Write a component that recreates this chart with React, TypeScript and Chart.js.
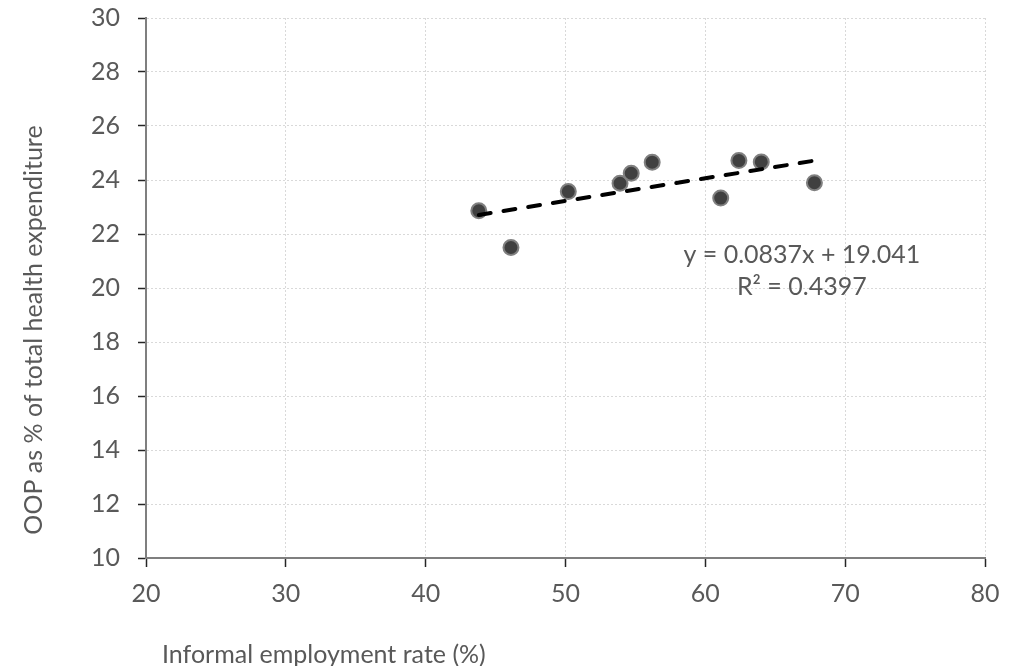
import React, { useEffect, useRef } from "react";
import { Chart, registerables } from "chart.js";

Chart.register(...registerables);

// Data
const informalRate = [43.8, 46.1, 50.2, 53.9, 54.7, 56.2, 61.1, 62.4, 64.0, 67.8];
const oopShare = [22.86, 21.5, 23.57, 23.88, 24.25, 24.66, 23.33, 24.72, 24.67, 23.9];

const TREND_SLOPE = 0.0837;
const TREND_INTERCEPT = 19.041;
const TREND_R2 = 0.4397;

const X_MIN = 20;
const X_MAX = 80;
const X_STEP = 10;
const Y_MIN = 10;
const Y_MAX = 30;
const Y_STEP = 2;

const X_TITLE = "Informal employment rate (%)";
const Y_TITLE = "OOP as % of total health expenditure";
const EQ_TEXT = `y = ${TREND_SLOPE}x + ${TREND_INTERCEPT}`;
const R2_TEXT = `R² = ${TREND_R2}`;

// label anchor (data coordinates) for the trendline equation
const EQ_AT_X = 66.9;
const EQ_AT_Y = 21.22;

const FONT = "Lato, 'Open Sans', sans-serif";
const FONT_SIZE = 25;
const TEXT_COLOR = "#595959";

export default function App() {
  const ref = useRef<HTMLCanvasElement | null>(null);

  useEffect(() => {
    if (!ref.current) return;
    const points = informalRate.map((x, i) => ({ x, y: oopShare[i] }));
    const xLo = Math.min(...informalRate);
    const xHi = Math.max(...informalRate);
    const trend = [
      { x: xLo, y: TREND_SLOPE * xLo + TREND_INTERCEPT },
      { x: xHi, y: TREND_SLOPE * xHi + TREND_INTERCEPT },
    ];

    const textPlugin = {
      id: "texts",
      afterDraw(chart: any) {
        const ctx = chart.ctx;
        const xs = chart.scales.x;
        const ys = chart.scales.y;
        ctx.save();
        ctx.fillStyle = TEXT_COLOR;
        ctx.font = `${FONT_SIZE}px ${FONT}`;
        // x title
        ctx.textAlign = "left";
        ctx.textBaseline = "middle";
        ctx.fillText(X_TITLE, 162, 655);
        // y title
        ctx.save();
        ctx.translate(34, 330);
        ctx.rotate(-Math.PI / 2);
        ctx.textAlign = "center";
        ctx.fillText(Y_TITLE, 0, 0);
        ctx.restore();
        // equation
        const ex = xs.getPixelForValue(EQ_AT_X);
        const ey = ys.getPixelForValue(EQ_AT_Y);
        ctx.textAlign = "center";
        ctx.fillText(EQ_TEXT, ex, ey);
        ctx.fillText(R2_TEXT, ex, ey + 32);
        ctx.restore();
      },
    };

    const chart = new Chart(ref.current, {
      type: "scatter",
      data: {
        datasets: [
          {
            type: "line",
            label: "Trend",
            data: trend,
            borderColor: "#000000",
            borderWidth: 4,
            borderDash: [12, 13],
            borderCapStyle: "round",
            pointRadius: 0,
            fill: false,
            order: 0,
          } as any,
          {
            label: "OOP",
            data: points,
            backgroundColor: "#404040",
            borderColor: "#808080",
            borderWidth: 2,
            pointRadius: 7.5,
            pointHoverRadius: 7.5,
            order: 1,
          },
        ],
      },
      options: {
        responsive: false,
        animation: false,
        layout: { padding: { top: 18, right: 29, left: 0, bottom: 0 } },
        plugins: {
          legend: { display: false },
          tooltip: { enabled: false },
          title: { display: false },
        },
        scales: {
          x: {
            type: "linear",
            min: X_MIN,
            max: X_MAX,
            ticks: {
              stepSize: X_STEP,
              color: TEXT_COLOR,
              font: { family: FONT, size: FONT_SIZE },
              padding: 12,
              maxRotation: 0,
            },
            grid: {
              color: "#d9d9d9",
              lineWidth: 1,
              tickColor: "#262626",
              tickLength: 9,
              tickWidth: 1.5,
            } as any,
            border: { color: "#7f7f7f", width: 2, dash: [2, 2] } as any,
            afterFit(scale: any) {
              scale.height = 108;
              scale.paddingLeft = 0;
              scale.paddingRight = 0;
            },
          },
          y: {
            type: "linear",
            min: Y_MIN,
            max: Y_MAX,
            ticks: {
              stepSize: Y_STEP,
              color: TEXT_COLOR,
              font: { family: FONT, size: FONT_SIZE },
              padding: 18,
            },
            grid: {
              color: "#d9d9d9",
              lineWidth: 1,
              tickColor: "#262626",
              tickLength: 8,
              tickWidth: 1.5,
            } as any,
            border: { color: "#7f7f7f", width: 2, dash: [2, 2] } as any,
            afterFit(scale: any) {
              scale.width = 146;
              scale.paddingTop = 0;
              scale.paddingBottom = 0;
            },
          },
        },
      },
      plugins: [textPlugin],
    });

    return () => chart.destroy();
  }, []);

  return (
    <div style={{ position: "fixed", left: 0, top: 0, width: 1014, height: 666, background: "#fff" }}>
      <canvas ref={ref} width={1014} height={666} style={{ display: "block" }} />
    </div>
  );
}
